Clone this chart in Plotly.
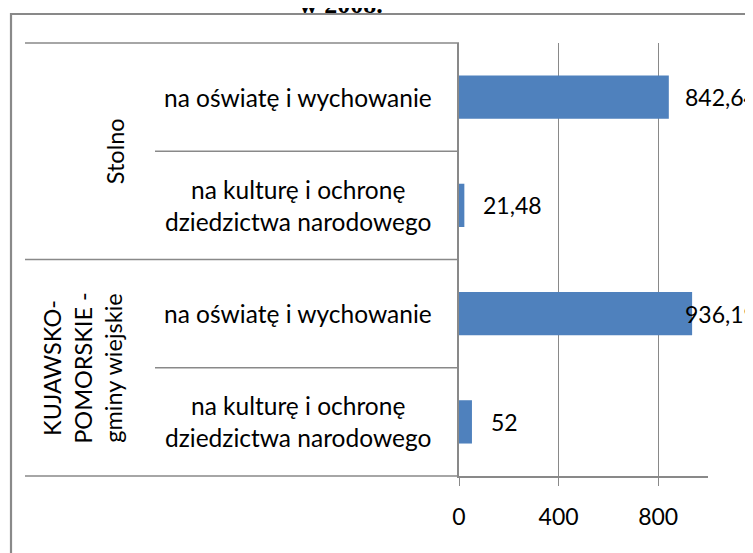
import plotly.graph_objects as go

# ---- data ----
groups = ["Stolno", "Stolno",
          "KUJAWSKO-<br>POMORSKIE -<br>gminy wiejskie", "KUJAWSKO-<br>POMORSKIE -<br>gminy wiejskie"]
subcats = ["na oświatę i wychowanie",
           "na kulturę i ochronę<br>dziedzictwa narodowego",
           "na oświatę i wychowanie",
           "na kulturę i ochronę<br>dziedzictwa narodowego"]
values = [842.64, 21.48, 936.19, 52]
value_labels = ["842,64", "21,48", "936,19", "52"]
x_ticks = [0, 400, 800]
title_text = "w 2008."

# ---- layout geometry (screen pixels; page body adds an 8px offset) ----
OFF = 8
W, H = 753, 553
L, R, T, B = 459 - OFF, 708 - OFF, 43 - OFF, 476 - OFF
PW, PH = R - L, B - T
XMAX = 1000

def px(x):
    return (x - OFF - L) / PW

def py(y):
    return (B - (y - OFF)) / PH

GRID = "#898989"
FONT = "Lato"
FS = 23
FS_LAB = 24.5
FS_GRP = 23.5

ypos = list(range(len(values)))

fig = go.Figure()
fig.add_trace(go.Bar(
    y=ypos, x=values, orientation="h",
    marker=dict(color="#4F81BD", line=dict(width=0)),
    width=0.4, hoverinfo="x"
))

annotations = []
shapes = []

# data labels
scale = PW / XMAX
for i, (v, lab) in enumerate(zip(values, value_labels)):
    end_px = L + OFF + v * scale
    left_px = min(end_px + 17, 683)
    annotations.append(dict(
        x=v, y=i, xref="x", yref="y", text=lab, showarrow=False,
        xanchor="left", yanchor="middle", xshift=left_px - end_px,
        font=dict(family=FONT, size=FS, color="black")
    ))

# sub-category labels
for i, s in enumerate(subcats):
    annotations.append(dict(
        x=px(298), y=i, xref="paper", yref="y", text=s, showarrow=False,
        xanchor="center", yanchor="middle", align="center",
        font=dict(family=FONT, size=FS_LAB, color="black")
    ))

# group labels (rotated)
seen = []
for i, g in enumerate(groups):
    if g in seen:
        continue
    seen.append(g)
    idx = [j for j, gg in enumerate(groups) if gg == g]
    ymid = sum(idx) / len(idx)
    xc = 115 if "<br>" not in g else 83
    annotations.append(dict(
        x=px(xc), y=ymid, xref="paper", yref="y", text=g, showarrow=False,
        textangle=-90, xanchor="center", yanchor="middle", align="center",
        font=dict(family=FONT, size=FS_GRP, color="black")
    ))

# title (partially cut off at top)
annotations.append(dict(
    x=px(341), y=py(21), xref="paper", yref="paper", text="<b>" + title_text + "</b>",
    showarrow=False, xanchor="center", yanchor="bottom",
    font=dict(family="Liberation Serif", size=26, color="black")
))

# outer chart border
shapes.append(dict(type="rect", xref="paper", yref="paper",
                   x0=px(11), x1=px(790), y0=py(590), y1=py(14),
                   line=dict(color=GRID, width=2.2), layer="below"))
# category dividers in label area
shapes.append(dict(type="line", xref="paper", yref="paper",
                   x0=px(25), x1=px(459), y0=py(43), y1=py(43),
                   line=dict(color=GRID, width=1.5)))
shapes.append(dict(type="line", xref="paper", yref="paper",
                   x0=px(25), x1=px(459), y0=py(476), y1=py(476),
                   line=dict(color=GRID, width=1.5)))
shapes.append(dict(type="line", xref="paper", yref="y",
                   x0=px(25), x1=px(459), y0=1.5, y1=1.5,
                   line=dict(color=GRID, width=1.5)))
for yb in (0.5, 2.5):
    shapes.append(dict(type="line", xref="paper", yref="y",
                       x0=px(155), x1=px(459), y0=yb, y1=yb,
                       line=dict(color=GRID, width=1.5)))

fig.update_layout(
    width=W, height=H,
    margin=dict(l=L, r=W - R, t=T, b=H - B, pad=0),
    paper_bgcolor="white", plot_bgcolor="white",
    showlegend=False,
    bargap=0.6,
    xaxis=dict(range=[0, XMAX], tickvals=x_ticks, ticktext=[str(t) for t in x_ticks],
               showgrid=True, gridcolor=GRID, gridwidth=1.3,
               showline=True, linecolor=GRID, linewidth=1.5,
               ticks="outside", ticklen=8, tickcolor=GRID, tickwidth=1.3,
               ticklabelstandoff=12, zeroline=False,
               tickfont=dict(family=FONT, size=FS, color="black")),
    yaxis=dict(range=[len(values) - 0.5, -0.5], showticklabels=False,
               showgrid=False, zeroline=False,
               showline=True, linecolor=GRID, linewidth=1.5, ticks=""),
    annotations=annotations, shapes=shapes,
)

fig.write_html("out.html")
